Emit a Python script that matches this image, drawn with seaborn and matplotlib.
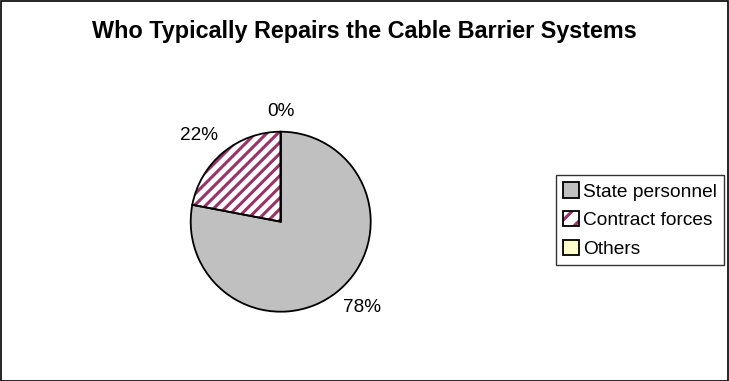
# Who typically repairs the cable barrier systems - pie chart
import matplotlib
matplotlib.use("Agg")
import matplotlib.pyplot as plt
import matplotlib.patches as mpatches
from matplotlib.legend_handler import HandlerTuple
import seaborn as sns

# data
categories = ["State personnel", "Contract forces", "Others"]
shares     = [78, 22, 0]
colors     = ["#C0C0C0", "#FFFFFF", "#FFFFCC"]
hatches    = [None, "///", None]
hatch_col  = "#993366"

# label positions (in pie radius units), Excel-style placement
label_xy = [(0.90, -0.95), (-0.91, 0.96), (0.0, 1.22)]

sns.set_style("white")
plt.rcParams["font.family"] = ["Liberation Sans", "DejaVu Sans"]
plt.rcParams["text.color"] = "black"
plt.rcParams["hatch.linewidth"] = 2.2

fig = plt.figure(figsize=(7.29, 3.81), dpi=100)
ax = fig.add_axes([190.7 / 729, 69.3 / 381, 180 / 729, 180 / 381])

# filled wedges (hatch drawn in plum, no outline)
wedges, _, autotexts = ax.pie(
    shares, colors=colors, startangle=90, counterclock=False,
    autopct="%1.0f%%", pctdistance=1.2,
    wedgeprops={"linewidth": 0},
    textprops={"fontsize": 13.7, "color": "black"},
)
for w, h in zip(wedges, hatches):
    if h:
        w.set_hatch(h)
        w.set_edgecolor(hatch_col)
        w.set_linewidth(0)

# outlines on top
outlines, _ = ax.pie(
    shares, startangle=90, counterclock=False,
    wedgeprops={"fill": False, "edgecolor": "black", "linewidth": 1.3},
)

for t, (x, y) in zip(autotexts, label_xy):
    t.set_position((x, y))
    t.set_ha("center")
    t.set_va("center")

ax.set_xlim(-1, 1)
ax.set_ylim(-1, 1)
ax.set_aspect("auto")
ax.axis("off")

# title
fig.text(0.5, 1 - 31.7 / 381, "Who Typically Repairs the Cable Barrier Systems",
         ha="center", va="center", fontsize=16.8, fontweight="bold",
         color="black")

# legend with black-edged swatches
handles = []
for c, h in zip(colors, hatches):
    fill = mpatches.Patch(facecolor=c, edgecolor=hatch_col if h else "none",
                          hatch="//" if h else None, linewidth=0)
    edge = mpatches.Patch(facecolor="none", edgecolor="black", linewidth=1.3)
    handles.append((fill, edge))

leg = fig.legend(handles, categories, loc="center left",
                 bbox_to_anchor=(556 / 729, 1 - 220.3 / 381),
                 handler_map={tuple: HandlerTuple(ndivide=1, pad=0)},
                 fontsize=13.8, frameon=True, fancybox=False,
                 handlelength=0.85, handleheight=0.85, handletextpad=0.2,
                 labelspacing=0.55, borderpad=0.36, borderaxespad=0,
                 labelcolor="black")
leg.get_frame().set_edgecolor("black")
leg.get_frame().set_linewidth(1)

# outer chart border
fig.patches.append(mpatches.Rectangle((0.001, 0.001), 0.997, 0.996,
                                      transform=fig.transFigure, fill=False,
                                      edgecolor="black", linewidth=1.2))

fig.savefig("out.png", dpi=100)
